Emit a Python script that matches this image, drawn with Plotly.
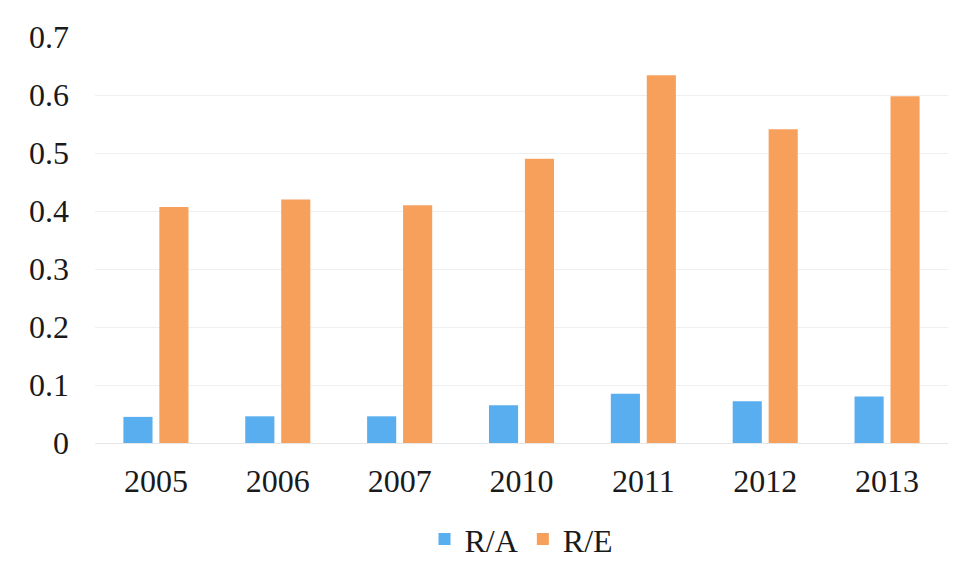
import plotly.graph_objects as go

years = ["2005", "2006", "2007", "2010", "2011", "2012", "2013"]
ra = [0.045, 0.046, 0.046, 0.065, 0.085, 0.072, 0.080]
re = [0.407, 0.420, 0.410, 0.490, 0.634, 0.541, 0.598]
y_ticks = [0, 0.1, 0.2, 0.3, 0.4, 0.5, 0.6, 0.7]
y_labels = ["0", "0.1", "0.2", "0.3", "0.4", "0.5", "0.6", "0.7"]

font = dict(family="Liberation Serif, Times New Roman, serif", size=32, color="#1a1a1a")

fig = go.Figure()
fig.add_trace(go.Bar(x=years, y=ra, name="R/A", marker=dict(color="#58AEEE", line=dict(width=0))))
fig.add_trace(go.Bar(x=years, y=re, name="R/E", marker=dict(color="#F7A05C", line=dict(width=0))))

fig.update_layout(
    width=962, height=578,
    margin=dict(l=95, r=14, t=37, b=135, autoexpand=False),
    paper_bgcolor="white", plot_bgcolor="white",
    font=font,
    barmode="group", bargap=0.41, bargroupgap=0.19,
    showlegend=True,
    legend=dict(orientation="h", x=0.5, xanchor="center", y=-0.237, yanchor="middle",
                font=font, itemwidth=30, traceorder="normal"),
)
fig.update_yaxes(range=[0, 0.7], tickvals=y_ticks, ticktext=y_labels,
                 showgrid=True, gridcolor="#efefef", gridwidth=1,
                 zeroline=True, zerolinecolor="#e6e6e6", zerolinewidth=1,
                 showline=False, ticks="", ticklabelstandoff=25, automargin=False)
fig.update_xaxes(showgrid=False, showline=False, ticks="", ticklabelstandoff=16, automargin=False)

fig.write_html("out.html")
